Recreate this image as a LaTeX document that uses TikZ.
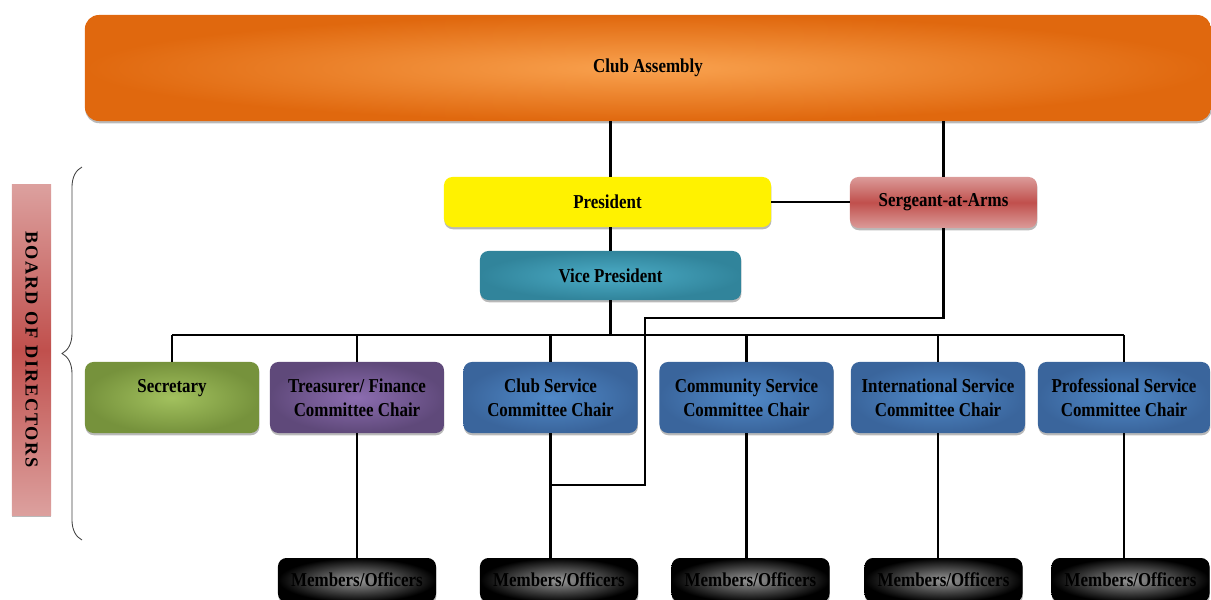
\documentclass[tikz,border=0pt]{standalone}
\usepackage{fontspec}
\setmainfont{Liberation Serif}[FakeStretch=0.86]
\newfontfamily\barfont{Liberation Serif}[LetterSpace=10]
\usetikzlibrary{positioning,shadows,decorations.pathreplacing}
\definecolor{caL}{HTML}{F9A24F}\definecolor{caD}{HTML}{E0680E}
\definecolor{sgL}{HTML}{DB9B99}\definecolor{sgD}{HTML}{C0504D}
\definecolor{vpL}{HTML}{4BACC6}\definecolor{vpD}{HTML}{31849B}
\definecolor{grL}{HTML}{A2C15E}\definecolor{grD}{HTML}{76923C}
\definecolor{puL}{HTML}{8C6DB0}\definecolor{puD}{HTML}{5F497A}
\definecolor{blL}{HTML}{5089C8}\definecolor{blD}{HTML}{3A659C}
\definecolor{bdL}{HTML}{DCA09E}\definecolor{bdD}{HTML}{C0504D}
\begin{document}
\begin{tikzpicture}[x=0.025cm, y=-0.025cm,
  font=\fontsize{14}{17}\selectfont\bfseries,
  box/.style={rounded corners=6pt, align=center, inner sep=0pt,
    drop shadow={shadow xshift=0.3pt, shadow yshift=-1.6pt, opacity=.55}},
  rad/.style 2 args={box, inner color=#1, outer color=#2},
  ln/.style={line width=1.5pt},
  chair/.style={minimum width=4.35cm, minimum height=1.775cm},
  mem/.style={rad={gray!80}{black}, minimum width=3.95cm, minimum height=1.1cm}]
\useasboundingbox (0,0) rectangle (1211,599);
% top levels
\node[rad={caL}{caD}, rounded corners=10pt, minimum width=28.15cm, minimum height=2.65cm] (ca) at (648,68) {Club Assembly};
\node[box, fill=yellow, minimum width=8.175cm, minimum height=1.25cm] (pres) at (607.5,202) {President};
\node[box, top color=sgL, bottom color=sgL, middle color=sgD, minimum width=4.675cm, minimum height=1.275cm] (sgt) at (943.5,202.5) {Sergeant-at-Arms};
\node[rad={vpL}{vpD}, minimum width=6.525cm, minimum height=1.225cm] (vp) at (610.5,275.5) {Vice President};
% chairs
\node[chair, rad={grL}{grD}] (sec) at (172,397.5) {Secretary\\\mbox{}};
\node[chair, rad={puL}{puD}] (tre) at (357,397.5) {Treasurer/ Finance\\Committee Chair};
\node[chair, rad={blL}{blD}] (csc) at (550.5,397.5) {Club Service\\Committee Chair};
\node[chair, rad={blL}{blD}] (com) at (746.5,397.5) {Community Service\\Committee Chair};
\node[chair, rad={blL}{blD}] (int) at (938,397.5) {International Service\\Committee Chair};
\node[chair, rad={blL}{blD}, minimum width=4.3cm] (pro) at (1124,397.5) {Professional Service\\Committee Chair};
% members
\node[mem] (m1) at (357,580) {Members/Officers};
\node[mem] (m2) at (559,580) {Members/Officers};
\node[mem] (m3) at (750.5,580) {Members/Officers};
\node[mem] (m4) at (943.5,580) {Members/Officers};
\node[mem] (m5) at (1130.5,580) {Members/Officers};
% board label and brace
\node[box, rounded corners=0pt, top color=bdL, bottom color=bdL, middle color=bdD,
  minimum width=0.975cm, minimum height=8.25cm, font=\barfont\bfseries\fontsize{13}{15}\selectfont] (bod) at (31.5,350) {\rotatebox{-90}{BOARD OF DIRECTORS}};
\coordinate (bb) at (82,540); \coordinate (bt) at (82,167);
\draw[decorate, decoration={brace, amplitude=0.5cm}, line width=0.6pt, black!75] (bb) -- (bt);
% connectors
\coordinate (bus) at (0,335);
\coordinate (k1) at (645,318); \coordinate (k2) at (645,485);
\draw[ln] (vp.north |- pres.north) -- (vp.north |- ca.south);
\draw[ln] (sgt.north) -- (sgt.north |- ca.south);
\draw[ln] (pres.east) -- (pres.east -| sgt.west);
\draw[ln] (vp.north) -- (vp.north |- pres.south);
\draw[ln] (vp.south) -- (vp.south |- bus);
\draw[ln] (sec.north |- bus) -- (pro.north |- bus);
\foreach \c in {sec,tre,csc,com,int,pro} \draw[ln] (\c.north) -- (\c.north |- bus);
\foreach \c/\m in {tre/m1,csc/m2,com/m3,int/m4,pro/m5} \draw[ln] (\c.south) -- (\c.south |- \m.north);
\draw[ln] (sgt.south) |- (k1) -- (k2) -- (k2 -| csc.south);
\end{tikzpicture}
\end{document}
